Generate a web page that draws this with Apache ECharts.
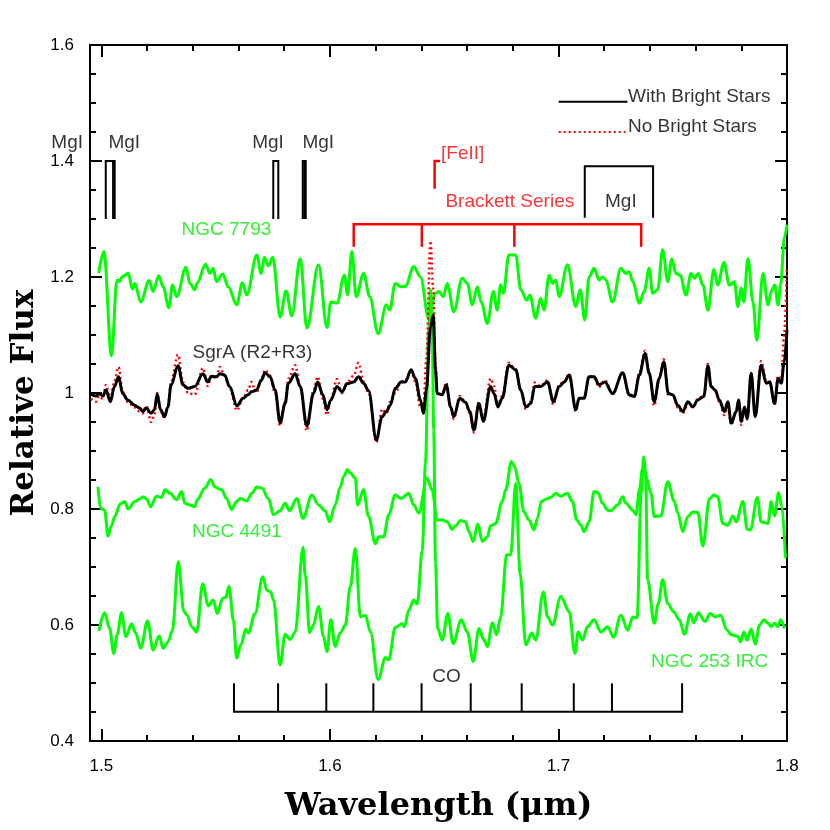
<!DOCTYPE html>
<html>
<head>
<meta charset="utf-8">
<title>Relative Flux</title>
<script src="https://cdn.jsdelivr.net/npm/echarts@6.0.0/dist/echarts.min.js"></script>
<style>
  html, body { margin: 0; padding: 0; background: #fff; }
  #chart { width: 830px; height: 830px; }
</style>
</head>
<body>
<div id="chart"></div>
<script>
// axis ticks
var xMajorTicks = [1.5, 1.6, 1.7, 1.8];
var xMinorTicks = [1.52, 1.54, 1.56, 1.58, 1.62, 1.64, 1.66, 1.68, 1.72, 1.74, 1.76, 1.78];

// spectra: [wavelength (um), relative flux]
var n7793 = [[1.4988,1.207],[1.5011,1.244],[1.5044,1.064],[1.5068,1.195],[1.5080,1.192],[1.5090,1.200],[1.5102,1.203],[1.5117,1.207],[1.5136,1.179],[1.5146,1.189],[1.5172,1.157],[1.5209,1.194],[1.5226,1.175],[1.5251,1.202],[1.5270,1.183],[1.5295,1.147],[1.5311,1.186],[1.5329,1.166],[1.5370,1.217],[1.5387,1.189],[1.5409,1.178],[1.5419,1.190],[1.5456,1.222],[1.5475,1.206],[1.5489,1.215],[1.5504,1.192],[1.5531,1.205],[1.5555,1.183],[1.5592,1.152],[1.5617,1.190],[1.5636,1.169],[1.5680,1.238],[1.5699,1.206],[1.5713,1.234],[1.5731,1.219],[1.5750,1.234],[1.5782,1.131],[1.5808,1.176],[1.5833,1.133],[1.5870,1.232],[1.5899,1.112],[1.5950,1.221],[1.5987,1.113],[1.6004,1.157],[1.6031,1.155],[1.6063,1.203],[1.6077,1.169],[1.6096,1.244],[1.6115,1.166],[1.6147,1.206],[1.6174,1.166],[1.6211,1.102],[1.6247,1.152],[1.6261,1.143],[1.6286,1.189],[1.6311,1.183],[1.6330,1.184],[1.6367,1.218],[1.6396,1.200],[1.6432,1.129],[1.6462,1.172],[1.6476,1.175],[1.6496,1.166],[1.6513,1.189],[1.6542,1.140],[1.6579,1.198],[1.6601,1.189],[1.6623,1.152],[1.6645,1.183],[1.6662,1.157],[1.6689,1.120],[1.6715,1.175],[1.6732,1.143],[1.6747,1.186],[1.6759,1.172],[1.6783,1.238],[1.6813,1.238],[1.6835,1.178],[1.6861,1.160],[1.6875,1.169],[1.6900,1.129],[1.6922,1.163],[1.6937,1.143],[1.6959,1.203],[1.6974,1.189],[1.6988,1.195],[1.7003,1.166],[1.7039,1.221],[1.7076,1.149],[1.7095,1.178],[1.7115,1.126],[1.7134,1.200],[1.7156,1.215],[1.7178,1.195],[1.7193,1.200],[1.7207,1.195],[1.7237,1.157],[1.7273,1.215],[1.7295,1.206],[1.7310,1.209],[1.7325,1.192],[1.7354,1.155],[1.7375,1.175],[1.7397,1.215],[1.7412,1.172],[1.7434,1.178],[1.7456,1.247],[1.7478,1.192],[1.7496,1.231],[1.7514,1.206],[1.7533,1.203],[1.7558,1.169],[1.7580,1.206],[1.7595,1.198],[1.7612,1.206],[1.7632,1.186],[1.7654,1.143],[1.7680,1.213],[1.7697,1.186],[1.7724,1.225],[1.7748,1.186],[1.7770,1.192],[1.7785,1.149],[1.7800,1.181],[1.7811,1.157],[1.7829,1.232],[1.7851,1.157],[1.7868,1.091],[1.7895,1.206],[1.7917,1.152],[1.7931,1.175],[1.7946,1.186],[1.7961,1.152],[1.7972,1.186],[1.7989,1.269],[1.8000,1.290]];

var sgrBright = [[1.4954,0.998],[1.4976,0.995],[1.4991,0.999],[1.5006,0.995],[1.5020,1.005],[1.5039,0.985],[1.5057,1.011],[1.5075,1.028],[1.5093,0.999],[1.5115,0.988],[1.5145,0.979],[1.5167,0.974],[1.5181,0.968],[1.5196,0.974],[1.5218,0.965],[1.5232,0.971],[1.5244,0.998],[1.5259,0.971],[1.5276,0.959],[1.5291,0.976],[1.5305,1.014],[1.5335,1.047],[1.5357,1.014],[1.5379,1.008],[1.5408,1.011],[1.5444,1.033],[1.5466,1.019],[1.5481,1.029],[1.5503,1.028],[1.5518,1.033],[1.5539,1.031],[1.5561,1.011],[1.5593,0.978],[1.5620,0.991],[1.5642,0.997],[1.5656,1.002],[1.5678,1.005],[1.5700,1.022],[1.5716,1.035],[1.5738,1.028],[1.5760,1.005],[1.5782,0.949],[1.5804,0.982],[1.5818,1.017],[1.5848,1.033],[1.5870,1.011],[1.5899,0.943],[1.5928,0.999],[1.5946,1.019],[1.5969,0.997],[1.5987,0.971],[1.6004,0.988],[1.6031,1.011],[1.6053,1.002],[1.6075,1.016],[1.6104,1.019],[1.6125,1.028],[1.6147,1.017],[1.6169,1.004],[1.6203,0.919],[1.6228,0.959],[1.6247,0.968],[1.6264,0.979],[1.6286,1.008],[1.6311,1.019],[1.6330,1.019],[1.6355,1.040],[1.6374,1.025],[1.6396,0.988],[1.6409,0.965],[1.6422,1.005],[1.6440,1.114],[1.6452,1.134],[1.6462,1.040],[1.6469,0.999],[1.6491,0.997],[1.6509,1.014],[1.6528,0.976],[1.6542,0.959],[1.6568,0.991],[1.6593,0.984],[1.6612,0.968],[1.6630,0.936],[1.6652,0.982],[1.6671,0.951],[1.6703,1.011],[1.6718,0.999],[1.6735,0.976],[1.6754,0.991],[1.6783,1.048],[1.6813,1.040],[1.6835,1.005],[1.6857,0.976],[1.6879,0.982],[1.6896,1.011],[1.6922,1.011],[1.6952,1.019],[1.6978,0.985],[1.7003,1.011],[1.7025,1.019],[1.7047,1.031],[1.7076,0.971],[1.7090,0.991],[1.7112,0.991],[1.7134,1.028],[1.7156,1.028],[1.7178,1.014],[1.7203,1.019],[1.7237,0.999],[1.7281,1.035],[1.7310,0.997],[1.7332,0.994],[1.7354,1.031],[1.7379,1.068],[1.7397,1.034],[1.7419,0.985],[1.7441,1.025],[1.7461,1.054],[1.7481,0.999],[1.7500,0.997],[1.7522,0.979],[1.7544,0.968],[1.7566,0.985],[1.7588,0.976],[1.7610,0.988],[1.7636,0.994],[1.7654,1.047],[1.7668,1.011],[1.7686,1.005],[1.7704,0.988],[1.7726,0.968],[1.7741,0.985],[1.7756,0.948],[1.7778,0.968],[1.7788,0.988],[1.7800,0.951],[1.7814,0.976],[1.7826,0.955],[1.7843,1.034],[1.7861,0.959],[1.7887,1.048],[1.7909,1.017],[1.7924,1.019],[1.7946,0.982],[1.7961,1.025],[1.7975,1.017],[1.7987,1.051],[1.8000,1.109]];

var sgrNoBright = [[1.4954,0.990],[1.4976,0.985],[1.4991,0.995],[1.5006,0.990],[1.5020,1.014],[1.5039,0.990],[1.5057,1.020],[1.5075,1.045],[1.5093,1.002],[1.5115,0.985],[1.5145,0.975],[1.5167,0.968],[1.5181,0.965],[1.5196,0.978],[1.5218,0.950],[1.5232,0.962],[1.5244,1.000],[1.5259,0.968],[1.5276,0.958],[1.5291,0.978],[1.5305,1.020],[1.5335,1.066],[1.5357,1.018],[1.5379,1.000],[1.5408,0.997],[1.5444,1.043],[1.5466,1.012],[1.5481,1.030],[1.5503,1.025],[1.5518,1.045],[1.5539,1.030],[1.5561,1.008],[1.5593,0.970],[1.5620,0.992],[1.5642,1.005],[1.5656,1.019],[1.5678,1.000],[1.5700,1.025],[1.5716,1.040],[1.5738,1.030],[1.5760,1.000],[1.5782,0.944],[1.5804,0.985],[1.5818,1.025],[1.5848,1.048],[1.5870,1.010],[1.5899,0.935],[1.5928,1.005],[1.5946,1.028],[1.5969,0.990],[1.5987,0.962],[1.6004,0.990],[1.6031,1.024],[1.6053,1.000],[1.6075,1.018],[1.6104,1.030],[1.6125,1.052],[1.6147,1.020],[1.6169,1.000],[1.6203,0.915],[1.6228,0.972],[1.6247,0.965],[1.6264,0.985],[1.6286,1.000],[1.6311,1.020],[1.6330,1.022],[1.6355,1.038],[1.6374,1.020],[1.6396,0.975],[1.6409,0.975],[1.6422,1.060],[1.6440,1.262],[1.6452,1.180],[1.6462,1.050],[1.6469,1.000],[1.6491,0.997],[1.6509,1.018],[1.6528,0.975],[1.6542,0.955],[1.6568,0.995],[1.6593,0.985],[1.6612,0.965],[1.6630,0.932],[1.6652,0.985],[1.6671,0.955],[1.6703,1.025],[1.6718,1.012],[1.6735,0.978],[1.6754,0.995],[1.6783,1.052],[1.6813,1.040],[1.6835,1.005],[1.6857,0.972],[1.6879,0.985],[1.6896,1.018],[1.6922,1.012],[1.6952,1.022],[1.6978,0.980],[1.7003,1.015],[1.7025,1.020],[1.7047,1.033],[1.7076,0.968],[1.7090,0.990],[1.7112,0.992],[1.7134,1.030],[1.7156,1.026],[1.7178,1.010],[1.7203,1.022],[1.7237,1.000],[1.7281,1.033],[1.7310,0.995],[1.7332,0.995],[1.7354,1.035],[1.7379,1.073],[1.7397,1.035],[1.7419,0.978],[1.7441,1.025],[1.7461,1.058],[1.7481,0.995],[1.7500,0.998],[1.7522,0.975],[1.7544,0.965],[1.7566,0.982],[1.7588,0.975],[1.7610,0.990],[1.7636,0.996],[1.7654,1.050],[1.7668,1.012],[1.7686,1.003],[1.7704,0.985],[1.7726,0.962],[1.7741,0.980],[1.7756,0.945],[1.7778,0.970],[1.7788,0.985],[1.7800,0.945],[1.7814,0.975],[1.7826,0.958],[1.7843,1.035],[1.7861,0.962],[1.7887,1.055],[1.7909,1.022],[1.7924,1.020],[1.7946,0.980],[1.7961,1.030],[1.7975,1.020],[1.7987,1.100],[1.8000,1.218]];

var n4491 = [[1.4985,0.838],[1.4996,0.801],[1.5014,0.798],[1.5029,0.753],[1.5044,0.771],[1.5058,0.787],[1.5083,0.809],[1.5102,0.813],[1.5117,0.800],[1.5146,0.813],[1.5165,0.817],[1.5182,0.821],[1.5199,0.817],[1.5215,0.804],[1.5241,0.822],[1.5263,0.820],[1.5278,0.833],[1.5300,0.827],[1.5329,0.816],[1.5351,0.830],[1.5365,0.810],[1.5387,0.807],[1.5409,0.804],[1.5419,0.816],[1.5453,0.836],[1.5478,0.851],[1.5497,0.838],[1.5526,0.833],[1.5548,0.818],[1.5570,0.799],[1.5592,0.813],[1.5607,0.818],[1.5636,0.814],[1.5658,0.827],[1.5680,0.838],[1.5702,0.836],[1.5731,0.818],[1.5753,0.790],[1.5782,0.797],[1.5804,0.810],[1.5823,0.797],[1.5855,0.818],[1.5882,0.784],[1.5921,0.824],[1.5950,0.807],[1.5979,0.797],[1.5998,0.778],[1.6023,0.807],[1.6045,0.838],[1.6060,0.856],[1.6077,0.868],[1.6089,0.862],[1.6111,0.853],[1.6121,0.807],[1.6147,0.833],[1.6169,0.787],[1.6199,0.740],[1.6213,0.752],[1.6235,0.752],[1.6257,0.790],[1.6286,0.824],[1.6311,0.818],[1.6345,0.827],[1.6367,0.807],[1.6389,0.793],[1.6425,0.853],[1.6447,0.833],[1.6469,0.781],[1.6491,0.781],[1.6513,0.778],[1.6535,0.765],[1.6550,0.771],[1.6571,0.780],[1.6593,0.778],[1.6608,0.761],[1.6627,0.744],[1.6647,0.774],[1.6667,0.744],[1.6689,0.752],[1.6703,0.771],[1.6725,0.775],[1.6754,0.813],[1.6769,0.833],[1.6794,0.882],[1.6808,0.873],[1.6827,0.844],[1.6849,0.795],[1.6871,0.781],[1.6893,0.764],[1.6908,0.784],[1.6925,0.813],[1.6944,0.817],[1.6966,0.820],[1.6988,0.827],[1.7010,0.822],[1.7039,0.827],[1.7061,0.813],[1.7080,0.781],[1.7098,0.772],[1.7112,0.761],[1.7134,0.778],[1.7156,0.830],[1.7173,0.828],[1.7193,0.810],[1.7215,0.798],[1.7229,0.797],[1.7259,0.807],[1.7281,0.821],[1.7295,0.810],[1.7325,0.798],[1.7339,0.790],[1.7354,0.833],[1.7368,0.870],[1.7383,0.856],[1.7405,0.827],[1.7419,0.787],[1.7448,0.788],[1.7478,0.847],[1.7507,0.813],[1.7522,0.793],[1.7544,0.761],[1.7566,0.787],[1.7588,0.795],[1.7610,0.794],[1.7632,0.736],[1.7661,0.818],[1.7680,0.824],[1.7697,0.821],[1.7719,0.775],[1.7741,0.772],[1.7763,0.788],[1.7778,0.778],[1.7807,0.813],[1.7826,0.765],[1.7840,0.764],[1.7870,0.820],[1.7887,0.778],[1.7917,0.775],[1.7931,0.813],[1.7946,0.788],[1.7963,0.828],[1.7978,0.804],[1.7993,0.715]];

var n253 = [[1.4989,0.590],[1.5014,0.621],[1.5036,0.594],[1.5054,0.551],[1.5069,0.583],[1.5088,0.621],[1.5107,0.580],[1.5132,0.602],[1.5150,0.586],[1.5172,0.560],[1.5202,0.607],[1.5226,0.557],[1.5253,0.581],[1.5270,0.560],[1.5292,0.571],[1.5311,0.591],[1.5336,0.709],[1.5361,0.623],[1.5375,0.617],[1.5395,0.597],[1.5417,0.588],[1.5443,0.671],[1.5468,0.633],[1.5489,0.643],[1.5507,0.620],[1.5531,0.646],[1.5545,0.648],[1.5558,0.667],[1.5577,0.609],[1.5592,0.543],[1.5611,0.567],[1.5632,0.593],[1.5643,0.586],[1.5672,0.620],[1.5706,0.683],[1.5724,0.660],[1.5741,0.657],[1.5753,0.643],[1.5782,0.531],[1.5804,0.584],[1.5826,0.575],[1.5848,0.588],[1.5882,0.734],[1.5892,0.686],[1.5911,0.587],[1.5928,0.600],[1.5950,0.632],[1.5972,0.580],[1.5987,0.554],[1.6004,0.609],[1.6023,0.563],[1.6045,0.586],[1.6067,0.600],[1.6089,0.666],[1.6111,0.732],[1.6133,0.614],[1.6155,0.617],[1.6177,0.588],[1.6211,0.506],[1.6243,0.544],[1.6257,0.540],[1.6286,0.596],[1.6316,0.602],[1.6326,0.597],[1.6345,0.626],[1.6367,0.643],[1.6382,0.636],[1.6404,0.729],[1.6418,0.879],[1.6432,1.109],[1.6440,1.178],[1.6447,1.137],[1.6454,0.936],[1.6462,0.707],[1.6471,0.595],[1.6491,0.574],[1.6516,0.620],[1.6539,0.568],[1.6575,0.609],[1.6601,0.588],[1.6627,0.537],[1.6652,0.594],[1.6674,0.574],[1.6689,0.563],[1.6711,0.604],[1.6729,0.583],[1.6747,0.614],[1.6773,0.721],[1.6791,0.721],[1.6813,0.844],[1.6832,0.689],[1.6857,0.566],[1.6883,0.586],[1.6900,0.574],[1.6934,0.657],[1.6952,0.614],[1.6974,0.600],[1.7010,0.649],[1.7047,0.623],[1.7072,0.551],[1.7086,0.588],[1.7105,0.574],[1.7127,0.597],[1.7156,0.609],[1.7186,0.588],[1.7215,0.597],[1.7241,0.579],[1.7273,0.617],[1.7303,0.591],[1.7325,0.614],[1.7344,0.612],[1.7362,0.827],[1.7373,0.890],[1.7381,0.867],[1.7390,0.678],[1.7419,0.603],[1.7437,0.637],[1.7456,0.678],[1.7478,0.637],[1.7504,0.623],[1.7529,0.609],[1.7551,0.584],[1.7577,0.619],[1.7592,0.604],[1.7612,0.621],[1.7641,0.606],[1.7665,0.620],[1.7686,0.614],[1.7709,0.617],[1.7738,0.591],[1.7756,0.583],[1.7785,0.580],[1.7797,0.571],[1.7811,0.588],[1.7826,0.574],[1.7843,0.593],[1.7861,0.567],[1.7880,0.600],[1.7899,0.609],[1.7917,0.603],[1.7931,0.597],[1.7946,0.603],[1.7960,0.597],[1.7972,0.609],[1.7989,0.594]];

// line identifications (um)
var mgGroups = [[1.5019, 1.5051, 1.5058], [1.5752, 1.5774], [1.5881, 1.5888, 1.5894]];
var mgBox = [1.7115, 1.7414];
var brackett = [1.6104, 1.6402, 1.6807, 1.7362];
var feII = 1.6458;
var coHeads = [1.5580, 1.5773, 1.5984, 1.6190, 1.6401, 1.6616, 1.6839, 1.7067, 1.7234, 1.7541];

var labels = [
  {text: 'MgI', x: 1.4850, y: 1.431, color: '#000'},
  {text: 'MgI', x: 1.5100, y: 1.431, color: '#000'},
  {text: 'MgI', x: 1.5729, y: 1.431, color: '#000'},
  {text: 'MgI', x: 1.5949, y: 1.431, color: '#000'},
  {text: 'MgI', x: 1.7273, y: 1.329, color: '#000'},
  {text: 'Brackett Series', x: 1.6787, y: 1.329, color: '#ff0000'},
  {text: '[FeII]', x: 1.6484, y: 1.412, color: '#ff0000', left: true},
  {text: 'With Bright Stars', x: 1.7302, y: 1.510, color: '#000', left: true},
  {text: 'No Bright Stars', x: 1.7302, y: 1.459, color: '#000', left: true},
  {text: 'NGC 7793', x: 1.5547, y: 1.281, color: '#00ee00'},
  {text: 'SgrA (R2+R3)', x: 1.5661, y: 1.069, color: '#000'},
  {text: 'NGC 4491', x: 1.5593, y: 0.760, color: '#00ee00'},
  {text: 'NGC 253 IRC', x: 1.7661, y: 0.536, color: '#00ee00'},
  {text: 'CO', x: 1.6510, y: 0.511, color: '#000'}
];

var sansFont = '"Liberation Sans", Arial, Helvetica, sans-serif';
var titleFont = '"DejaVu Serif", serif';
var green = '#00ff00';

// black marker shapes
var blackShapes = [];
mgGroups.forEach(function(g){
  var a = g[0], b = g[g.length - 1];
  blackShapes.push([[a, 1.3], [a, 1.4], [b, 1.4], [b, 1.3]]);
  for (var i = 1; i < g.length - 1; i++) blackShapes.push([[g[i], 1.4], [g[i], 1.3]]);
});
blackShapes.push([[mgBox[0], 1.302], [mgBox[0], 1.391], [mgBox[1], 1.391], [mgBox[1], 1.302]]);
var coFirst = coHeads[0], coLast = coHeads[coHeads.length - 1];
blackShapes.push([[coFirst, 0.4995], [coFirst, 0.4505], [coLast, 0.4505], [coLast, 0.4995]]);
coHeads.slice(1, -1).forEach(function(w){ blackShapes.push([[w, 0.4505], [w, 0.4995]]); });
blackShapes.push([[1.7001, 1.502], [1.7302, 1.502]]);

// red marker shapes
var bFirst = brackett[0], bLast = brackett[brackett.length - 1];
var redShapes = [[[bFirst, 1.252], [bFirst, 1.291], [bLast, 1.291], [bLast, 1.252]]];
brackett.slice(1, -1).forEach(function(w){ redShapes.push([[w, 1.291], [w, 1.252]]); });
redShapes.push([[feII, 1.352], [feII, 1.400], [feII + 0.0024, 1.400]]);

var xMin = 1.495, xMax = 1.8;

function xAxisDef(pos, ticks, len, withLabel) {
  var ax = {
    type: 'value', position: pos, min: xMin, max: xMax,
    axisLine: {onZero: false, lineStyle: {color: '#000', width: 2}},
    axisTick: {inside: true, length: len, customValues: ticks, lineStyle: {color: '#000', width: 2}},
    axisLabel: {show: withLabel, customValues: ticks, color: '#000', fontSize: 17, fontFamily: sansFont, margin: 17},
    splitLine: {show: false}
  };
  if (pos === 'bottom' && withLabel) {
    ax.name = 'Wavelength (\u03bcm)';
    ax.nameLocation = 'middle';
    ax.nameGap = 50;
    ax.nameMoveOverlap = false;
    ax.nameTextStyle = {fontFamily: titleFont, fontWeight: 'bold', fontSize: 32, color: '#000'};
  }
  return ax;
}

function yAxisDef(pos, withLabel) {
  var ax = {
    type: 'value', position: pos, min: 0.4, max: 1.6, interval: 0.2,
    axisLine: {onZero: false, lineStyle: {color: '#000', width: 2}},
    axisTick: {inside: true, length: 12, lineStyle: {color: '#000', width: 2}},
    minorTick: {show: true, splitNumber: 4, length: 6, lineStyle: {color: '#000', width: 2}},
    axisLabel: {show: withLabel, color: '#000', fontSize: 17, fontFamily: sansFont, margin: 16},
    splitLine: {show: false}, minorSplitLine: {show: false}
  };
  if (withLabel) {
    ax.name = 'Relative Flux';
    ax.nameLocation = 'middle';
    ax.nameGap = 50;
    ax.nameMoveOverlap = false;
    ax.nameTextStyle = {fontFamily: titleFont, fontWeight: 'bold', fontSize: 31, color: '#000', padding: [0, 20, 0, 0]};
  }
  return ax;
}

function spectrum(name, data, color, width, type, z) {
  return {
    name: name, type: 'line', data: data, xAxisIndex: 0, yAxisIndex: 0,
    showSymbol: false, symbol: 'none', smooth: 0.35, smoothMonotone: 'x',
    lineStyle: {color: color, width: width, type: type},
    silent: true, z: z
  };
}

var chart = echarts.init(document.getElementById('chart'), null, {renderer: 'canvas'});
var option = {
  animation: false,
  backgroundColor: '#fff',
  grid: {left: 90, right: 43, top: 45, bottom: 89, containLabel: false},
  xAxis: [
    xAxisDef('bottom', xMajorTicks, 12, true),
    xAxisDef('bottom', xMinorTicks, 6, false),
    xAxisDef('top', xMajorTicks, 12, false),
    xAxisDef('top', xMinorTicks, 6, false)
  ],
  yAxis: [yAxisDef('left', true), yAxisDef('right', false)],
  series: [
    spectrum('NGC 7793', n7793, green, 3, 'solid', 3),
    spectrum('NGC 4491', n4491, green, 3, 'solid', 3),
    spectrum('NGC 253 IRC', n253, green, 3, 'solid', 3),
    spectrum('No Bright Stars', sgrNoBright, '#ff0000', 2.5, [2, 3], 4),
    spectrum('With Bright Stars', sgrBright, '#000', 3, 'solid', 5),
    {
      type: 'lines', coordinateSystem: 'cartesian2d', xAxisIndex: 0, yAxisIndex: 0,
      polyline: true, silent: true, z: 6,
      lineStyle: {color: '#000', width: 2, opacity: 1, curveness: 0},
      data: blackShapes.map(function(c){ return {coords: c}; })
    },
    {
      type: 'lines', coordinateSystem: 'cartesian2d', xAxisIndex: 0, yAxisIndex: 0,
      polyline: true, silent: true, z: 6,
      lineStyle: {color: '#ff0000', width: 2.5, opacity: 1, curveness: 0},
      data: redShapes.map(function(c){ return {coords: c}; })
    },
    {
      type: 'lines', coordinateSystem: 'cartesian2d', xAxisIndex: 0, yAxisIndex: 0,
      polyline: true, silent: true, z: 6,
      lineStyle: {color: '#ff0000', width: 2, opacity: 1, type: [2, 3], curveness: 0},
      data: [{coords: [[1.7001, 1.450], [1.7293, 1.450]]}]
    },
    {
      type: 'scatter', xAxisIndex: 0, yAxisIndex: 0, clip: false, silent: true, z: 7,
      symbolSize: 1, itemStyle: {color: 'rgba(0,0,0,0)'},
      data: labels.map(function(l){
        return {
          value: [l.x, l.y],
          label: {
            show: true, formatter: l.text, color: l.color,
            fontSize: 19, fontFamily: sansFont,
            position: l.left ? 'right' : 'inside', distance: 0
          }
        };
      })
    }
  ]
};
chart.setOption(option);
</script>
</body>
</html>
